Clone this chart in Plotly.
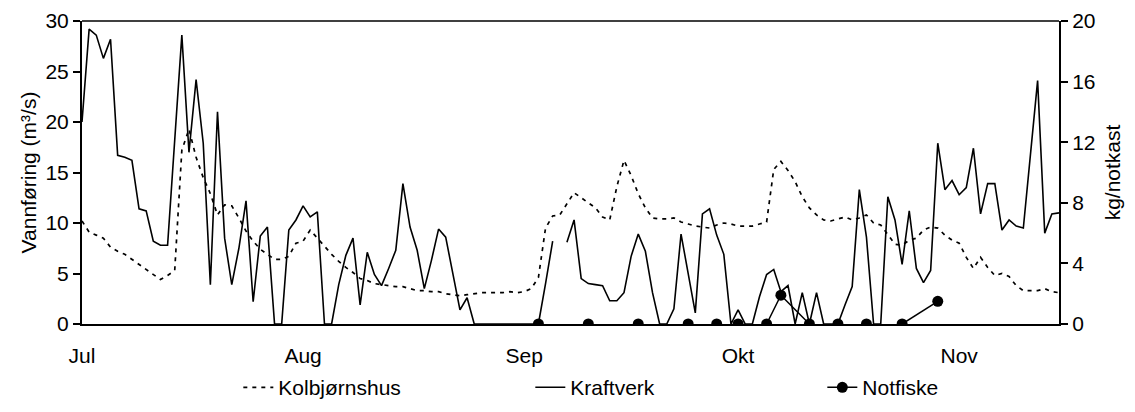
import pandas as pd
import plotly.graph_objects as go

START = "2002-07-01"

# Daily flow, m3/s (Jul 1 .. Nov 15)
kolbjornshus = [
    10.2, 9.1, 8.8, 8.5, 7.6, 7.2, 6.9, 6.4, 5.9, 5.4,
    4.9, 4.4, 4.8, 5.3, 17.2, 19.3, 16.5, 14.5, 12.9, 10.8,
    11.8, 11.7, 10.5, 9.2, 8.2, 7.4, 6.9, 6.4, 6.4, 6.7,
    8.0, 8.2, 9.3, 8.5, 7.6, 6.9, 6.2, 5.6, 5.1, 4.5,
    4.3, 4.0, 3.9, 3.8, 3.7, 3.7, 3.5, 3.3, 3.3, 3.2,
    3.2, 3.0, 2.9, 2.8, 2.9, 3.0, 3.1, 3.1, 3.1, 3.1,
    3.2, 3.1, 3.2, 3.5, 4.6, 9.5, 10.7, 10.8, 11.9, 13.0,
    12.5, 12.0, 11.5, 10.6, 10.3, 13.6, 16.2, 14.7, 12.9, 11.5,
    10.5, 10.4, 10.4, 10.5, 10.1, 9.9, 9.7, 9.6, 9.5, 9.8,
    10.0, 9.9, 9.7, 9.7, 9.7, 9.9, 10.1, 15.3, 16.1, 15.2,
    14.1, 12.6, 11.5, 10.8, 10.3, 10.2, 10.4, 10.6, 10.3, 10.5,
    10.8, 10.0, 9.8, 8.8, 7.9, 7.8, 8.3, 8.5, 9.3, 9.6,
    9.5, 8.8, 8.3, 8.0, 6.6, 5.5, 6.6, 5.6, 4.8, 5.0,
    4.7, 3.8, 3.3, 3.3, 3.3, 3.5, 3.2, 3.1,
]

kraftverk = [
    20.0, 29.2, 28.6, 26.3, 28.2, 16.7, 16.5, 16.2, 11.4, 11.2,
    8.2, 7.8, 7.8, 18.2, 28.6, 17.0, 24.2, 17.9, 3.9, 21.0,
    8.5, 3.9, 7.5, 12.2, 2.2, 8.7, 9.6, 0, 0, 9.3,
    10.3, 11.7, 10.6, 11.1, 0, 0, 3.9, 6.8, 8.5, 1.9,
    7.1, 4.9, 3.8, 5.5, 7.3, 13.9, 9.6, 7.3, 3.5, 6.3,
    9.4, 8.6, 5.0, 1.4, 2.6, 0, 0, 0, 0, 0,
    0, 0, 0, 0, 0, 4.0, 8.2, None, 8.1, 10.3,
    4.5, 4.0, 3.9, 3.8, 2.3, 2.3, 3.1, 6.7, 8.9, 7.2,
    3.1, 0, 0, 1.5, 8.9, 5.0, 1.1, 10.9, 11.4, 8.8,
    6.9, 0, 1.4, 0, 0, 2.7, 4.9, 5.4, 3.2, 3.8,
    0, 3.1, 0, 3.1, 0, 0, 0, 1.9, 3.7, 13.3,
    8.6, 0, 0, 12.6, 10.3, 5.9, 11.2, 5.5, 4.1, 5.3,
    17.9, 13.3, 14.2, 12.8, 13.5, 17.4, 10.9, 13.9, 13.9, 9.3,
    10.3, 9.7, 9.5, 16.8, 24.1, 9.0, 10.9, 11.0,
]

# Seine fishing catch, kg per haul
notfiske_dates = ["2002-09-03", "2002-09-10", "2002-09-17", "2002-09-24", "2002-09-28",
                  "2002-10-01", "2002-10-05", "2002-10-07", "2002-10-11", "2002-10-15",
                  "2002-10-19", "2002-10-24", "2002-10-29"]
notfiske_kg = [0, 0, 0, 0, 0, 0, 0, 1.9, 0, 0, 0, 0, 1.5]
notfiske_haul = [1, 2, 3, 4, 5, 6, 7, 7, 7, 8, 9, 10, 10]

month_ticks = ["2002-07-01", "2002-08-01", "2002-09-01", "2002-10-01", "2002-11-01"]
month_labels = ["Jul", "Aug", "Sep", "Okt", "Nov"]

dates = pd.date_range(START, periods=len(kraftverk), freq="D")

nx, ny = [], []
prev = None
for d, v, h in zip(notfiske_dates, notfiske_kg, notfiske_haul):
    if prev is not None and h != prev:
        nx.append(None)
        ny.append(None)
    nx.append(d)
    ny.append(v)
    prev = h

FONT = "Liberation Sans, Arial, sans-serif"
FS = 21

fig = go.Figure()
fig.add_trace(go.Scatter(x=dates, y=kolbjornshus, name="Kolbjørnshus", mode="lines",
                         line=dict(color="black", width=1.7, dash="4px,5px")))
fig.add_trace(go.Scatter(x=dates, y=kraftverk, name="Kraftverk", mode="lines",
                         line=dict(color="black", width=1.6), connectgaps=False))
fig.add_trace(go.Scatter(x=nx, y=ny, name="Notfiske", mode="lines+markers", yaxis="y2",
                         line=dict(color="black", width=1.5),
                         marker=dict(color="black", size=11, symbol="circle"),
                         connectgaps=False))

fig.update_layout(
    width=1135, height=412,
    margin=dict(l=82, r=76, t=21, b=88, autoexpand=False),
    paper_bgcolor="white", plot_bgcolor="white",
    font=dict(family=FONT, size=FS, color="black"),
    showlegend=True,
    legend=dict(orientation="h", x=0.16, xanchor="left", y=-0.21, yanchor="middle",
                font=dict(size=FS), entrywidth=247, traceorder="normal"),
    xaxis=dict(type="date", range=[dates[0], dates[-1]],
               tickvals=month_ticks, ticktext=month_labels,
               ticks="outside", ticklen=12, tickcolor="rgba(0,0,0,0)",
               showgrid=False, zeroline=False,
               showline=True, linecolor="black", linewidth=2, mirror=False,
               automargin=False),
    yaxis=dict(range=[0, 30], dtick=5, ticks="outside", ticklen=7, tickwidth=1.5,
               tickcolor="black", showgrid=False, zeroline=False,
               showline=True, linecolor="black", linewidth=2,
               title=dict(text="Vannføring (m³/s)", standoff=3, font=dict(size=FS)),
               automargin=False),
    yaxis2=dict(range=[0, 20], dtick=4, overlaying="y", side="right",
                ticks="outside", ticklen=7, tickwidth=1.5, tickcolor="black",
                showgrid=False, zeroline=False,
                showline=True, linecolor="black", linewidth=2,
                title=dict(text="kg/notkast", standoff=11, font=dict(size=FS)),
                automargin=False),
    shapes=[dict(type="line", xref="paper", yref="paper", x0=0, x1=1, y0=1, y1=1,
                 line=dict(color="black", width=1.5))],
)

fig.write_html("out.html")
